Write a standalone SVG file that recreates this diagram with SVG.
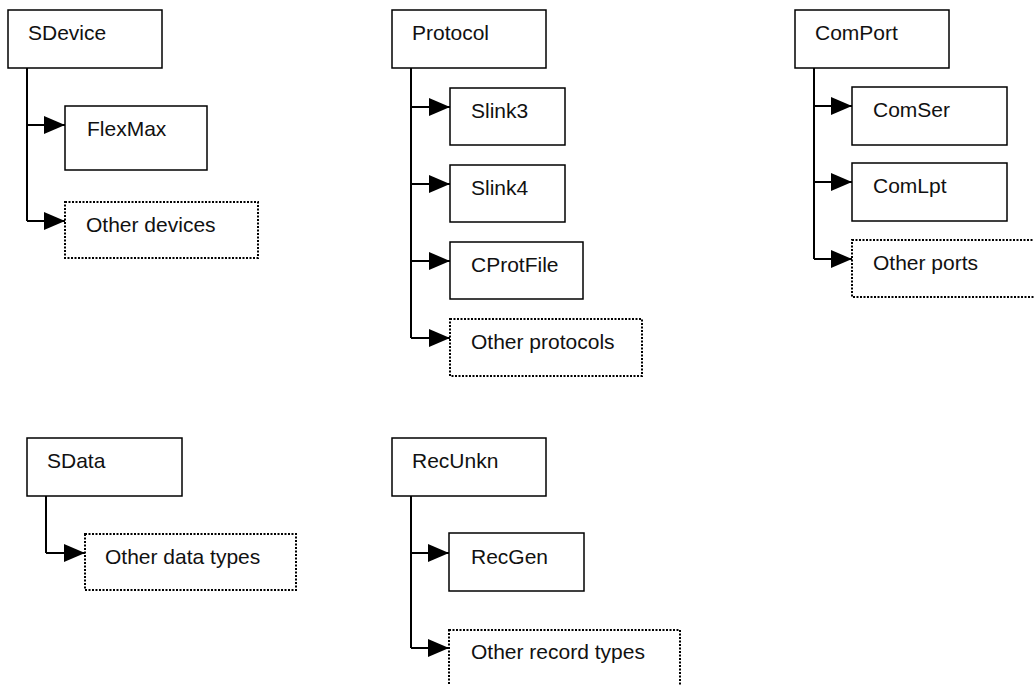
<svg xmlns="http://www.w3.org/2000/svg" width="1034" height="685" viewBox="0 0 1034 685">
<style>
  .box { fill: #fff; stroke: #000; stroke-width: 1.5; }
  .dot { fill: #fff; stroke: #000; stroke-width: 2; stroke-dasharray: 2 1.5; }
  .lbl { font-family: "Liberation Sans", Arial, sans-serif; font-size: 21px; fill: #111; }
  .ln { fill: none; stroke: #000; stroke-width: 2; }
</style>
<defs>
  <marker id="arr" markerUnits="userSpaceOnUse" markerWidth="21" markerHeight="18" refX="21" refY="9" orient="auto">
    <path d="M0,0 L21,9 L0,18 Z" fill="#000"/>
  </marker>
</defs>
<rect width="1034" height="685" fill="#fff"/>
<g id="connectors">
  <path class="ln" d="M27,68 V221"/>
  <path class="ln" d="M27,125 H65" marker-end="url(#arr)"/>
  <path class="ln" d="M27,221 H65" marker-end="url(#arr)"/>
  <path class="ln" d="M411,68 V338"/>
  <path class="ln" d="M411,107 H450" marker-end="url(#arr)"/>
  <path class="ln" d="M411,184 H450" marker-end="url(#arr)"/>
  <path class="ln" d="M411,261 H450" marker-end="url(#arr)"/>
  <path class="ln" d="M411,338 H450" marker-end="url(#arr)"/>
  <path class="ln" d="M814,68 V259"/>
  <path class="ln" d="M814,106 H852" marker-end="url(#arr)"/>
  <path class="ln" d="M814,182 H852" marker-end="url(#arr)"/>
  <path class="ln" d="M814,259 H852" marker-end="url(#arr)"/>
  <path class="ln" d="M46,496 V553"/>
  <path class="ln" d="M46,553 H85" marker-end="url(#arr)"/>
  <path class="ln" d="M411,496 V648"/>
  <path class="ln" d="M411,553 H449" marker-end="url(#arr)"/>
  <path class="ln" d="M411,648 H449" marker-end="url(#arr)"/>
</g>
<g id="sdevice"><rect class="box" x="8" y="10" width="154" height="58"/><text class="lbl" x="28" y="40">SDevice</text></g>
<g id="flexmax"><rect class="box" x="65" y="106" width="142" height="64"/><text class="lbl" x="87" y="136">FlexMax</text></g>
<g id="otherdevices"><rect class="dot" x="65" y="202" width="193" height="56"/><text class="lbl" x="86" y="232">Other devices</text></g>
<g id="protocol"><rect class="box" x="392" y="10" width="154" height="58"/><text class="lbl" x="412" y="40">Protocol</text></g>
<g id="slink3"><rect class="box" x="450" y="88" width="115" height="57"/><text class="lbl" x="471" y="118">Slink3</text></g>
<g id="slink4"><rect class="box" x="450" y="165" width="115" height="57"/><text class="lbl" x="471" y="195">Slink4</text></g>
<g id="cprotfile"><rect class="box" x="450" y="242" width="133" height="57"/><text class="lbl" x="471" y="272">CProtFile</text></g>
<g id="otherprotocols"><rect class="dot" x="450" y="319" width="192" height="57"/><text class="lbl" x="471" y="349">Other protocols</text></g>
<g id="comport"><rect class="box" x="795" y="10" width="154" height="58"/><text class="lbl" x="815" y="40">ComPort</text></g>
<g id="comser"><rect class="box" x="852" y="87" width="155" height="58"/><text class="lbl" x="873" y="117">ComSer</text></g>
<g id="comlpt"><rect class="box" x="852" y="163" width="155" height="58"/><text class="lbl" x="873" y="193">ComLpt</text></g>
<g id="otherports"><rect class="dot" x="852" y="240" width="190" height="57"/><text class="lbl" x="873" y="270">Other ports</text></g>
<g id="sdata"><rect class="box" x="27" y="438" width="155" height="58"/><text class="lbl" x="47" y="468">SData</text></g>
<g id="otherdatatypes"><rect class="dot" x="85" y="534" width="211" height="56"/><text class="lbl" x="105" y="564">Other data types</text></g>
<g id="recunkn"><rect class="box" x="392" y="438" width="154" height="58"/><text class="lbl" x="412" y="468">RecUnkn</text></g>
<g id="recgen"><rect class="box" x="449" y="533" width="135" height="58"/><text class="lbl" x="471" y="564">RecGen</text></g>
<g id="otherrecordtypes"><rect class="dot" x="449" y="630" width="231" height="62"/><text class="lbl" x="471" y="659">Other record types</text></g>
</svg>
